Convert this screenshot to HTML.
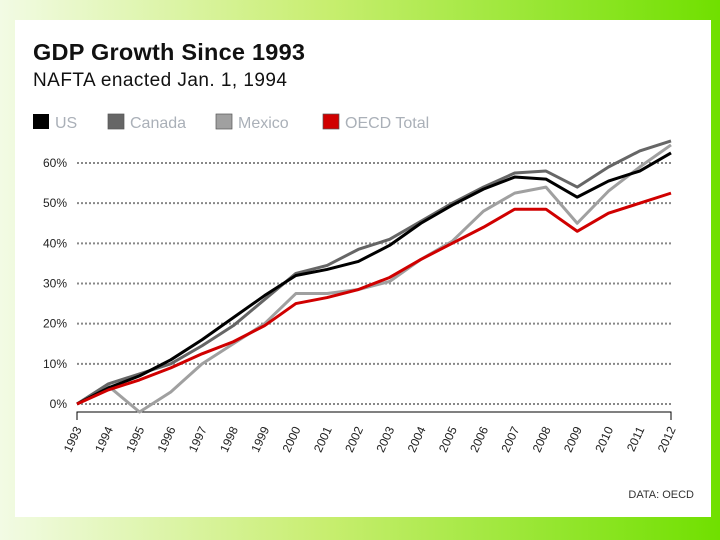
<!DOCTYPE html>
<html><head><meta charset="utf-8"><style>
html,body{margin:0;padding:0}
body{width:720px;height:540px;overflow:hidden;background:linear-gradient(90deg,#f2fbe4 0%,#c8ee70 45%,#70e000 100%);position:relative;font-family:"Liberation Sans",sans-serif}
#panel{position:absolute;left:15px;top:20px;width:696px;height:497px;background:#fff}
</style></head><body>
<div id="panel"></div>
<svg id="chart" width="720" height="540" style="position:absolute;left:0;top:0" font-family="Liberation Sans, sans-serif">
<text x="33" y="60" font-size="23.5" font-weight="bold" fill="#111" textLength="272">GDP Growth Since 1993</text>
<text x="33" y="86" font-size="19" fill="#111" textLength="254">NAFTA enacted Jan. 1, 1994</text>
<g id="legend"></g>
<g id="grid"></g><g id="axis"></g><g id="lines"></g>
<text x="694" y="498" font-size="11" text-anchor="end" fill="#333">DATA: OECD</text>
</svg>
<script>
const years=[1993,1994,1995,1996,1997,1998,1999,2000,2001,2002,2003,2004,2005,2006,2007,2008,2009,2010,2011,2012];
const yTicks=[0,10,20,30,40,50,60];
const seriesNames=["US","Canada","Mexico","OECD Total"];
const seriesColors=["#000","#666","#a0a0a0","#d00000"];
const us=[0,4,7,11,16,21.5,27,32,33.5,35.5,39.5,45,49.5,53.5,56.5,56,51.5,55.5,58,62.5];
const canada=[0,5,7.5,10,14.5,19.5,26,32.5,34.5,38.5,41,45.5,50,54,57.5,58,54,59,63,65.5];
const mexico=[0,4.5,-2,3,10,15,20,27.5,27.5,28.5,30.5,36,40.5,48,52.5,54,45,53,59,64.5];
const oecd=[0,3.5,6,9,12.5,15.5,19.5,25,26.5,28.5,31.5,36,40,44,48.5,48.5,43,47.5,50,52.5];
const NS="http://www.w3.org/2000/svg";
const x=y=>77+(y-1993)*(671-77)/19;
const yS=v=>404-v*(404-163)/60;
function mk(t,a,p){const e=document.createElementNS(NS,t);for(const k in a)e.setAttribute(k,a[k]);p.appendChild(e);return e;}
const grid=document.getElementById('grid');
yTicks.forEach(t=>{
  const l=mk('line',{x1:77,x2:671,y1:yS(t),y2:yS(t),stroke:'#888','stroke-width':2,'stroke-dasharray':'2,2'},grid);
  
  
  const tx=mk('text',{x:67,y:yS(t)+4,'font-size':12,'text-anchor':'end',fill:'#222'},grid);
  tx.textContent=t+'%';
  
  
});
const axis=document.getElementById('axis');
const ax=mk('path',{d:`M${x(1993)},420V412H${x(2012)}V420`,fill:'none',stroke:'#000','stroke-width':1},axis);


years.forEach(yr=>{
  const t=mk('text',{x:0,y:0,'font-size':12,'text-anchor':'end',fill:'#222',transform:`translate(${x(yr)+5},429) rotate(-65)`},axis);
  t.textContent=yr;
  
  
});
const data=[us,canada,mexico,oecd];
const order=[2,1,0,3];
const lines=document.getElementById('lines');
order.forEach(i=>{
  const d=data[i].map((v,j)=>(j?'L':'M')+x(years[j])+','+yS(v)).join('');
  const p=mk('path',{d:d,fill:'none',stroke:seriesColors[i],'stroke-width':3,'stroke-linejoin':'round'},lines);
  
  
});
const legend=document.getElementById('legend');
const lx=[33,108,216,323];
seriesNames.forEach((n,i)=>{
  const r=mk('rect',{x:lx[i],y:114,width:16,height:15,fill:seriesColors[i],stroke:i==0?'none':'#555','stroke-width':0.7},legend);
  
  
  const t=mk('text',{x:lx[i]+22,y:128,'font-size':16,fill:'#aab0b8'},legend);
  t.textContent=n;
  
  
});
</script>
</body></html>
